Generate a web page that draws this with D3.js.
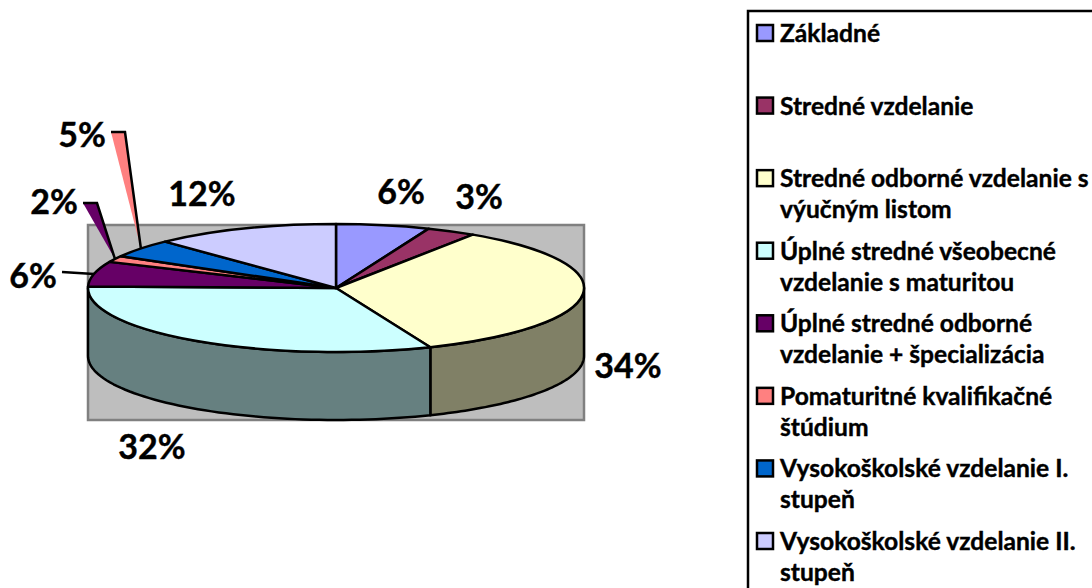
<!DOCTYPE html>
<html>
<head>
<meta charset="utf-8">
<script src="https://cdn.jsdelivr.net/npm/d3@7"></script>
<style>
    body { margin: 0; background: white; }
    svg { display: block; }
    text { font-family: Lato, "Open Sans", sans-serif; font-weight: 700; fill: black; stroke: black; stroke-width: 0.4px; }
</style>
</head>
<body>
<svg id="chart"></svg>
<script>
// legend names, line breaks as in the original legend
const categories = [
    "Základné",
    "Stredné vzdelanie",
    "Stredné odborné vzdelanie s\nvýučným listom",
    "Úplné stredné všeobecné\nvzdelanie s maturitou",
    "Úplné stredné odborné\nvzdelanie + špecializácia",
    "Pomaturitné kvalifikačné\nštúdium",
    "Vysokoškolské vzdelanie I.\nstupeň",
    "Vysokoškolské vzdelanie II.\nstupeň"
];
// shares in percent, estimated from the slice edges
const shares = [6.1, 3.2, 34.49, 31.6, 6.3, 1.6, 4.6, 12.11];
const colors = ["#9999FF", "#993366", "#FFFFCC", "#CCFFFF", "#660066", "#FF8080", "#0066CC", "#CCCCFF"];
const sideColors = ["#7A7A99", "#7A2952", "#808066", "#668080", "#520052", "#CC6666", "#0052A3", "#A3A3CC"];
// label anchor points, [x, baseline]
const labelSpots = [[401, 204], [479, 209], [628, 378], [152, 459], [33, 288], [54, 214], [82, 147], [202, 206]];
// leaders go from here to the slice, in the odd wedge look of the original
const leaderWedges = { 5: { top: [[83, 203], [97, 203]], color: "#660066" }, 6: { top: [[111, 132], [125, 132]], color: "#FF8080" } };
const leaderLines = { 4: [62, 272] };

const size = { width: 1092, height: 588 };
const svg = d3.select("#chart").attr("width", size.width).attr("height", size.height);

const cx = 336, cy = 288, rx = 248, ry = 64, depth = 68;
const lineWidth = 2.5;

// wall behind the pie
svg.append("rect")
    .attr("x", 88).attr("y", 225)
    .attr("width", 496).attr("height", 195)
    .attr("fill", "#BEBEBE")
    .attr("stroke", "#808080")
    .attr("stroke-width", 2.5);

const slices = d3.pie().sort(null).value(d => d)(shares);
const ellipse = (a, dy = 0) => [cx + rx * Math.sin(a), cy - ry * Math.cos(a) + dy];

// the rim, only the part turned to the viewer
const rim = d3.line();
slices.forEach((s, i) => {
    const a0 = Math.max(s.startAngle, Math.PI / 2);
    const a1 = Math.min(s.endAngle, Math.PI * 1.5);
    if (a1 <= a0) return;
    const steps = d3.range(0, 61).map(k => a0 + (a1 - a0) * k / 60);
    const pts = steps.map(a => ellipse(a)).concat(steps.slice().reverse().map(a => ellipse(a, depth)));
    svg.append("path")
        .attr("d", rim(pts) + "Z")
        .attr("fill", sideColors[i])
        .attr("stroke", "black")
        .attr("stroke-width", lineWidth)
        .attr("stroke-linejoin", "round");
});

// top face: a round pie squashed flat
const arc = d3.arc().innerRadius(0).outerRadius(rx);
svg.append("g")
    .attr("transform", `translate(${cx},${cy}) scale(1,${ry / rx})`)
    .selectAll("path")
    .data(slices)
    .enter()
    .append("path")
    .attr("d", arc)
    .attr("fill", (d, i) => colors[i])
    .attr("stroke", "black")
    .attr("stroke-width", lineWidth)
    .attr("stroke-linejoin", "round")
    .attr("vector-effect", "non-scaling-stroke");

// leaders
slices.forEach((s, i) => {
    const end = ellipse((s.startAngle + s.endAngle) / 2);
    if (leaderWedges[i]) {
        const w = leaderWedges[i];
        svg.append("path")
            .attr("d", d3.line()([w.top[0], w.top[1], end]) + "Z")
            .attr("fill", w.color);
        svg.append("path")
            .attr("d", d3.line()([w.top[0], w.top[1], end]))
            .attr("fill", "none")
            .attr("stroke", "black")
            .attr("stroke-width", lineWidth);
    }
    if (leaderLines[i]) {
        svg.append("path")
            .attr("d", d3.line()([leaderLines[i], end]))
            .attr("fill", "none")
            .attr("stroke", "black")
            .attr("stroke-width", lineWidth);
    }
});

// data labels
svg.selectAll(".pct")
    .data(shares)
    .enter()
    .append("text")
    .attr("class", "pct")
    .attr("x", (d, i) => labelSpots[i][0])
    .attr("y", (d, i) => labelSpots[i][1])
    .attr("text-anchor", "middle")
    .attr("font-size", 34)
    .text(d => Math.round(d) + "%");

// legend box runs off the picture on the right and bottom
svg.append("rect")
    .attr("x", 748).attr("y", 11)
    .attr("width", 400).attr("height", 640)
    .attr("fill", "white")
    .attr("stroke", "black")
    .attr("stroke-width", 2.5);

const legendY = d3.scalePoint().domain(categories).range([42, 550]);
const legend = svg.selectAll(".legend-row")
    .data(categories)
    .enter()
    .append("g")
    .attr("class", "legend-row")
    .attr("transform", d => `translate(0,${legendY(d)})`);

legend.append("rect")
    .attr("x", 757).attr("y", -17)
    .attr("width", 16).attr("height", 16)
    .attr("fill", (d, i) => colors[i])
    .attr("stroke", "black")
    .attr("stroke-width", 2.5);

legend.each(function(d) {
    d3.select(this).selectAll("text")
        .data(d.split("\n"))
        .enter()
        .append("text")
        .attr("x", 780)
        .attr("y", (line, k) => k * 31)
        .attr("font-size", 24.6)
        .text(line => line);
});
</script>
</body>
</html>
